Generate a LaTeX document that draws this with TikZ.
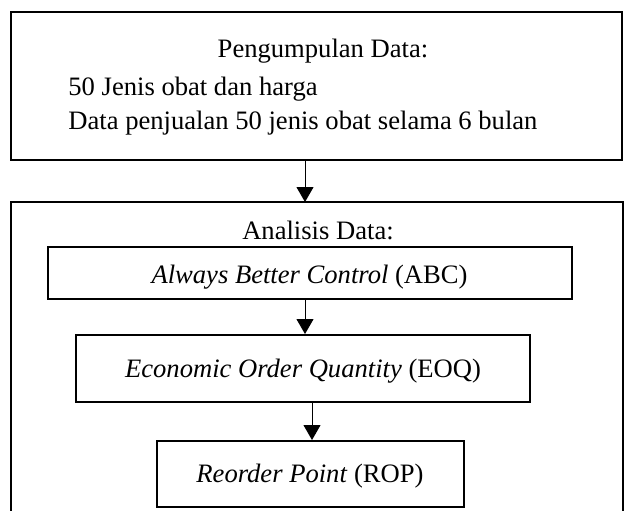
\documentclass[tikz,border=0pt]{standalone}
\usepackage{fontspec}
\setmainfont{Liberation Serif}
\usetikzlibrary{arrows.meta}
\tikzset{
  box/.style={draw, line width=1pt, inner sep=0pt},
  frame/.style={line width=1pt},
  arr/.style={line width=0.5pt, -{Triangle[length=7.5pt,width=8.5pt]}},
  lab/.style={inner sep=0pt, anchor=base, font=\fontsize{13.3}{16}\selectfont}
}

\begin{document}
\begin{tikzpicture}[x=0.5pt,y=-0.5pt]
  \useasboundingbox (0,0) rectangle (624,510);

  % pengumpulan data
  \node[box, minimum width=305.5pt, minimum height=74pt] (collect) at (316.5,86) {};
  \node[lab] (collecttitle) at (323,57) {Pengumpulan Data:};
  \node[lab, anchor=base west] (item1) at (68,95) {50 Jenis obat dan harga};
  \node[lab, anchor=base west] (item2) at (68,129) {Data penjualan 50 jenis obat selama 6 bulan};

  % analisis data (frame open at the bottom)
  \draw[frame] (11,520) -- (11,202) -- (623,202) -- (623,520);
  \coordinate (analysis) at (305,202);
  \node[lab] (analysistitle) at (318,239.5) {Analisis Data:};

  \node[box, minimum width=262pt, minimum height=26pt] (abc) at (310,273) {};
  \node[box, minimum width=227pt, minimum height=33.5pt] (eoq) at (303,368.5) {};
  \node[box, minimum width=153.5pt, minimum height=33pt] (rop) at (310.5,474) {};
  \node[lab] (abctext) at (309.5,283.5) {\textit{Always Better Control} (ABC)};
  \node[lab] (eoqtext) at (303,377) {\textit{Economic Order Quantity} (EOQ)};
  \node[lab] (roptext) at (310,482.5) {\textit{Reorder Point} (ROP)};

  \draw[arr] (collect.south -| analysis) -- (analysis);
  \draw[arr] ([xshift=-2.5pt]abc.south) -- ([xshift=-2.5pt]abc.south |- eoq.north);
  \draw[arr] ([xshift=0.75pt]eoq.south -| rop.north) -- ([xshift=0.75pt]rop.north);
\end{tikzpicture}
\end{document}
